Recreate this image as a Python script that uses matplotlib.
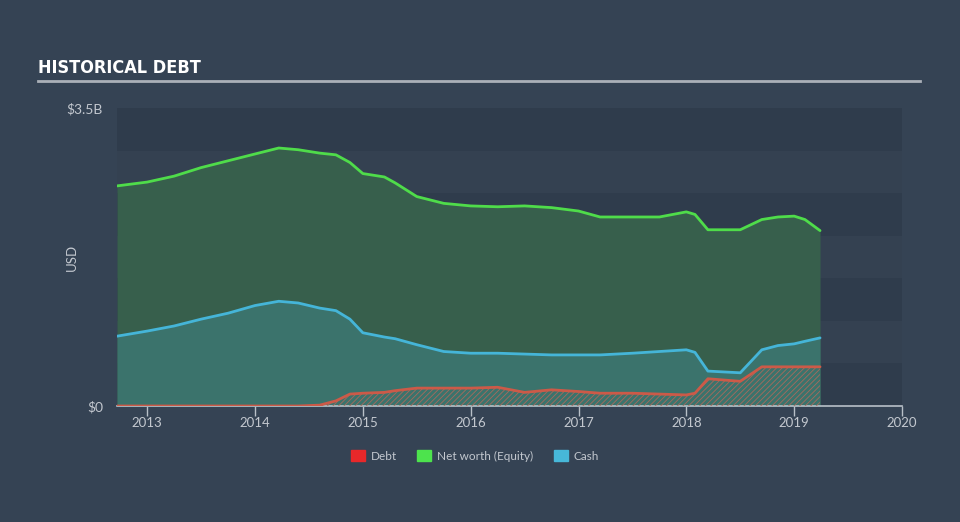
import matplotlib
matplotlib.use("Agg")
from matplotlib import pyplot as plt
from matplotlib.patches import Patch
from matplotlib import font_manager

# decimal years, values in $B
years = [2012.72, 2013.0, 2013.25, 2013.5, 2013.75, 2014.0, 2014.22, 2014.4, 2014.6,
         2014.75, 2014.88, 2015.0, 2015.2, 2015.3, 2015.5, 2015.75, 2016.0, 2016.25,
         2016.5, 2016.75, 2017.0, 2017.2, 2017.5, 2017.75, 2018.0, 2018.08, 2018.2,
         2018.5, 2018.7, 2018.85, 2019.0, 2019.1, 2019.24]
equity = [2.585, 2.63, 2.70, 2.80, 2.88, 2.96, 3.03, 3.01, 2.97, 2.95, 2.86, 2.73, 2.69,
          2.62, 2.46, 2.38, 2.35, 2.34, 2.35, 2.33, 2.29, 2.22, 2.22, 2.22, 2.28, 2.25,
          2.07, 2.07, 2.19, 2.22, 2.23, 2.19, 2.06]
cash = [0.82, 0.88, 0.94, 1.02, 1.09, 1.18, 1.23, 1.21, 1.15, 1.12, 1.02, 0.86, 0.81,
        0.79, 0.72, 0.64, 0.62, 0.62, 0.61, 0.60, 0.60, 0.60, 0.62, 0.64, 0.66, 0.63,
        0.41, 0.39, 0.66, 0.71, 0.73, 0.76, 0.80]
debt = [0, 0, 0, 0, 0, 0, 0, 0, 0.01, 0.06, 0.14, 0.15, 0.16, 0.18, 0.21, 0.21, 0.21,
        0.22, 0.16, 0.19, 0.17, 0.15, 0.15, 0.14, 0.13, 0.15, 0.32, 0.29, 0.46, 0.46,
        0.46, 0.46, 0.46]
year_ticks = [2013, 2014, 2015, 2016, 2017, 2018, 2019, 2020]

BG = "#354354"
DARK_BAND = "#2f3c4c"
LIGHT_BAND = "#344151"
TXT = "#c3c8cf"

plt.rcParams["font.family"] = ["Lato", "DejaVu Sans"]
plt.rcParams["hatch.linewidth"] = 0.6

# look for a narrow bold face for the title
title_font = None
for f in font_manager.fontManager.ttflist:
    narrow = "Condensed" in f.name or "Narrow" in f.name or f.stretch == "condensed"
    if narrow and str(f.weight) in ("bold", "700", "600", "800"):
        title_font = font_manager.FontProperties(fname=f.fname, size=13)
        break
if title_font is None:
    title_font = font_manager.FontProperties(family="DejaVu Sans", weight="bold", size=10)

fig = plt.figure(figsize=(9.6, 5.22), dpi=100, facecolor=BG)
ax = fig.add_axes([117 / 960, 116 / 522, 785 / 960, 298 / 522])
ax.set_facecolor(BG)

# alternating horizontal bands
for i in range(7):
    ax.axhspan(i * 0.5, (i + 1) * 0.5, color=DARK_BAND if i % 2 == 0 else LIGHT_BAND,
               lw=0, zorder=0)

ax.fill_between(years, 0, equity, color="#375f4c", lw=0, zorder=1)
ax.fill_between(years, 0, cash, color="#3b736c", lw=0, zorder=2)
ax.fill_between(years, 0, debt, facecolor="none", edgecolor="#a86a5c", hatch="//////",
                lw=0, zorder=3)

ax.plot(years, equity, color="#4fdc4a", lw=2, zorder=4, solid_capstyle="round")
ax.plot(years, cash, color="#45b5d8", lw=2, zorder=4, solid_capstyle="round")
ax.plot(years, debt, color="#cc5a48", lw=2, zorder=4, solid_capstyle="round")

ax.set_xlim(2012.72, 2020)
ax.set_ylim(0, 3.5)

for s in ["top", "right", "left"]:
    ax.spines[s].set_visible(False)
ax.spines["bottom"].set_color("#b8c0c8")
ax.spines["bottom"].set_linewidth(1.2)

ax.set_xticks(year_ticks)
ax.set_xticklabels([str(y) for y in year_ticks])
ax.tick_params(axis="x", colors="#b8c0c8", length=7, width=1, labelcolor=TXT, labelsize=9.5,
               pad=1)
ax.set_yticks([0, 3.5])
ax.set_yticklabels(["$0", "$3.5B"])
ax.tick_params(axis="y", length=0, labelcolor=TXT, labelsize=10, pad=10)
ax.set_ylabel("USD", color=TXT, fontsize=9.5)
ax.yaxis.set_label_coords(-0.0497, 0.5)

fig.text(38 / 960, 1 - 68 / 522, "HISTORICAL DEBT", color="white",
         fontproperties=title_font, va="center")
fig.add_artist(plt.Line2D([38 / 960, 920 / 960], [1 - 81 / 522, 1 - 81 / 522],
                          color="#aab0b8", lw=2))

handles = [Patch(color="#e8282a", label="Debt"),
           Patch(color="#4de34d", label="Net worth (Equity)"),
           Patch(color="#47b8d9", label="Cash")]
leg = fig.legend(handles=handles, loc="center", bbox_to_anchor=(475 / 960, 1 - 456 / 522),
                 ncol=3, frameon=False, fontsize=8.5, handlelength=1.2, handleheight=1.1,
                 columnspacing=1.7, handletextpad=0.5)
for t in leg.get_texts():
    t.set_color(TXT)

fig.savefig("out.png", facecolor=BG)
